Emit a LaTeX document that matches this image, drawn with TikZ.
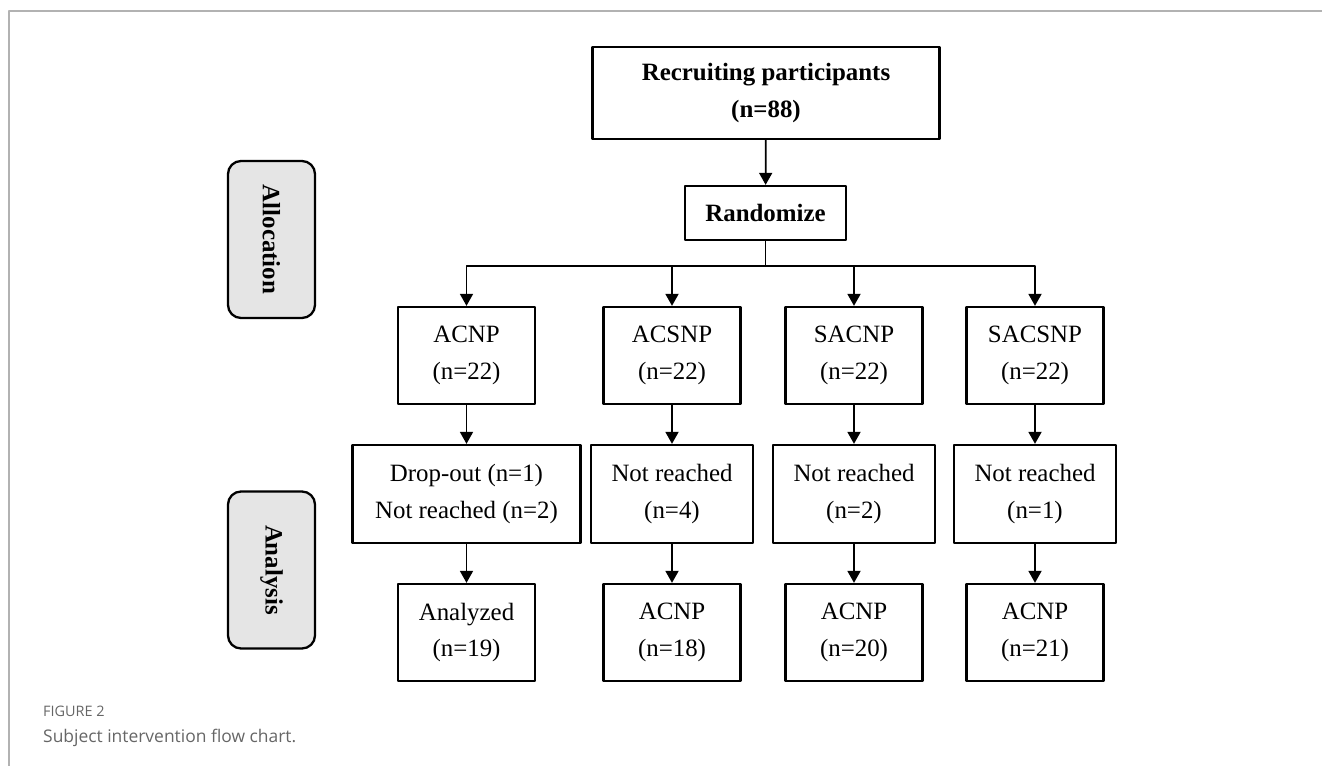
\documentclass[tikz,border=0pt]{standalone}
\usepackage{fontspec}
\setmainfont{Liberation Serif}
\newfontfamily\capfont{Open Sans}
\usetikzlibrary{arrows.meta}
\definecolor{framecol}{rgb}{0.70,0.70,0.70}
\definecolor{capcol}{rgb}{0.40,0.40,0.40}
\definecolor{phasecol}{rgb}{0.90,0.90,0.90}
\tikzset{
  box/.style={draw=black,line width=2.3bp,inner sep=0pt,align=center,
    font=\fontsize{25}{37}\selectfont},
  phase/.style={draw=black,line width=2.3bp,fill=phasecol,rounded corners=13bp,
    inner sep=0pt,minimum width=87bp,minimum height=157bp},
  flow/.style={-{Triangle[width=13bp,length=12bp]},line width=1.8bp},
}
\begin{document}
\begin{tikzpicture}[line join=bevel]
      \useasboundingbox (0bp,0bp) rectangle (1322bp,766bp);
      %% frame
      \begin{scope}
        \pgfsetlinewidth{1.5bp}
        \pgfsetstrokecolor{framecol}
        \draw (1322bp,755bp) -- (9bp,755bp) -- (9bp,0bp);
      \end{scope}
      % Node: recruit
      \node[box,minimum width=347bp,minimum height=92bp] (recruit) at (766bp,673bp)
        {\textbf{Recruiting participants}\\\textbf{(n=88)}};
      % Node: randomize
      \node[box,minimum width=161bp,minimum height=54bp] (randomize) at (765.5bp,553bp)
        {\textbf{Randomize}};
      \coordinate (split) at (765.5bp,500bp);
      % Node: phases
      \node[phase] (alloc) at (271.5bp,526.5bp) {};
      \node[rotate=-90,font=\fontsize{25}{30}\selectfont\bfseries] (alloctxt) at (alloc) {Allocation};
      \node[phase] (analysis) at (271.5bp,196bp) {};
      \node[rotate=-90,font=\fontsize{25}{30}\selectfont\bfseries] (analysistxt) at (analysis) {Analysis};
      % Node: groups
      \node[box,minimum width=137bp,minimum height=97bp] (acnp) at (466.5bp,410.5bp) {ACNP\\(n=22)};
      \node[box,minimum width=137bp,minimum height=97bp] (acsnp) at (672bp,410.5bp) {ACSNP\\(n=22)};
      \node[box,minimum width=137bp,minimum height=97bp] (sacnp) at (854bp,410.5bp) {SACNP\\(n=22)};
      \node[box,minimum width=137bp,minimum height=97bp] (sacsnp) at (1035bp,410.5bp) {SACSNP\\(n=22)};
      % Node: losses
      \node[box,minimum width=228bp,minimum height=98bp] (lossa) at (466.5bp,272bp) {Drop-out (n=1)\\Not reached (n=2)};
      \node[box,minimum width=162bp,minimum height=98bp] (lossb) at (672bp,272bp) {Not reached\\(n=4)};
      \node[box,minimum width=162bp,minimum height=98bp] (lossc) at (854bp,272bp) {Not reached\\(n=2)};
      \node[box,minimum width=162bp,minimum height=98bp] (lossd) at (1035bp,272bp) {Not reached\\(n=1)};
      % Node: analysed
      \node[box,minimum width=137bp,minimum height=97bp] (fina) at (466.5bp,133.5bp) {Analyzed\\(n=19)};
      \node[box,minimum width=137bp,minimum height=97bp] (finb) at (672bp,133.5bp) {ACNP\\(n=18)};
      \node[box,minimum width=137bp,minimum height=97bp] (finc) at (854bp,133.5bp) {ACNP\\(n=20)};
      \node[box,minimum width=137bp,minimum height=97bp] (find) at (1035bp,133.5bp) {ACNP\\(n=21)};
      % Edge: recruit -> randomize
      \draw [flow] (recruit) -- (randomize);
      % Edge: randomize -> groups
      \draw [line width=1.8bp] (randomize) -- (split);
      \draw [flow] (split) -| (acnp);
      \draw [flow] (split) -| (acsnp);
      \draw [flow] (split) -| (sacnp);
      \draw [flow] (split) -| (sacsnp);
      % Edge: groups -> losses -> analysed
      \draw [flow] (acnp) -- (lossa);
      \draw [flow] (acsnp) -- (lossb);
      \draw [flow] (sacnp) -- (lossc);
      \draw [flow] (sacsnp) -- (lossd);
      \draw [flow] (lossa) -- (fina);
      \draw [flow] (lossb) -- (finb);
      \draw [flow] (lossc) -- (finc);
      \draw [flow] (lossd) -- (find);
      % Node: caption
      \node[anchor=base west,inner sep=0pt,text=capcol,font=\capfont\fontsize{14.5}{17}\selectfont] (capnum) at (43bp,49bp) {FIGURE 2};
      \node[anchor=base west,inner sep=0pt,text=capcol,font=\capfont\fontsize{17.5}{22}\selectfont] (captext) at (43bp,24bp) {Subject intervention flow chart.};
      % 
    \end{tikzpicture}
\end{document}
